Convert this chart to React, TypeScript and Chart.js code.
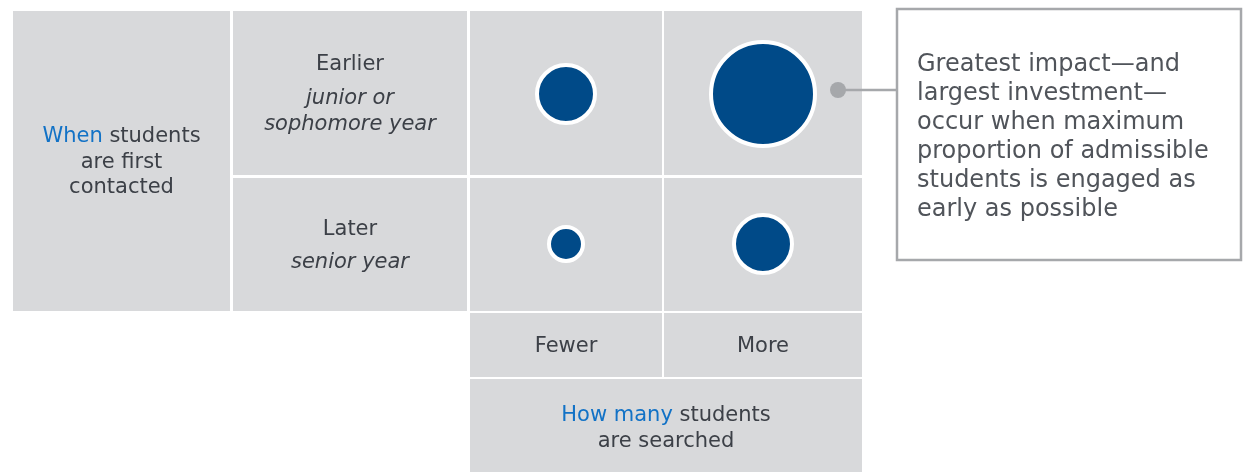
import React, { useEffect, useRef } from "react";
import { Chart, registerables } from "chart.js";

Chart.register(...registerables);

// ---- data ----
const columns = ["Fewer", "More"];
const rows = ["Earlier", "Later"];
const rowSubLabels = [["junior or", "sophomore year"], ["senior year"]];
const bubbleColumn = [0, 1, 0, 1];
const bubbleRow = [0, 0, 1, 1];
const bubbleRadius = [29, 52, 17, 29];
const rowTitle = [["When", " students"], ["", "are first"], ["", "contacted"]];
const colTitle = [["How many", " students"], ["", "are searched"]];
const noteLines = [
  "Greatest impact\u2014and",
  "largest investment\u2014",
  "occur when maximum",
  "proportion of admissible",
  "students is engaged as",
  "early as possible",
];

// ---- layout / style ----
const W = 1243;
const H = 472;
const GRAY = "#d8d9db";
const DARK = "#3c4047";
const BLUE_TEXT = "#1272c6";
const BUBBLE = "#004a88";
const NOTE_GRAY = "#a6a8ab";
const FONT = "'DejaVu Sans', Verdana, sans-serif";
const L = {
  col1: [13, 230],
  col2: [233, 467],
  col3: [470, 662],
  col4: [664, 862],
  rowTop: [11, 175],
  rowBot: [178, 311],
  labelRow: [313, 377],
  titleRow: [379, 472],
  xCenter0: 566,
  xStep: 197,
  yCenter0: 94,
  yStep: 150,
  dot: [838, 90],
  box: [897, 9, 1241, 260],
};

const cellPlugin = {
  id: "cells",
  beforeDatasetsDraw(chart: any) {
    const ctx = chart.ctx as CanvasRenderingContext2D;
    ctx.save();
    ctx.fillStyle = GRAY;
    const rect = (x: number[], y: number[]) =>
      ctx.fillRect(x[0], y[0], x[1] - x[0], y[1] - y[0]);
    rect(L.col1, [L.rowTop[0], L.rowBot[1]]);
    [L.col2, L.col3, L.col4].forEach((c) => {
      rect(c, L.rowTop);
      rect(c, L.rowBot);
    });
    rect(L.col3, L.labelRow);
    rect(L.col4, L.labelRow);
    rect([L.col3[0], L.col4[1]], L.titleRow);

    ctx.textBaseline = "middle";
    const mixed = (parts: string[], cx: number, cy: number) => {
      ctx.font = `21px ${FONT}`;
      const w0 = ctx.measureText(parts[0]).width;
      const w1 = ctx.measureText(parts[1]).width;
      let x = cx - (w0 + w1) / 2;
      ctx.textAlign = "left";
      ctx.fillStyle = BLUE_TEXT;
      ctx.fillText(parts[0], x, cy);
      ctx.fillStyle = DARK;
      ctx.fillText(parts[1], x + w0, cy);
    };
    // row title
    const c1 = (L.col1[0] + L.col1[1]) / 2;
    rowTitle.forEach((p, i) => mixed(p, c1, 137 + i * 25.5));
    // col title
    const ct = (L.col3[0] + L.col4[1]) / 2;
    colTitle.forEach((p, i) => mixed(p, ct, 416 + i * 26));

    ctx.textAlign = "center";
    ctx.fillStyle = DARK;
    const c2 = (L.col2[0] + L.col2[1]) / 2;
    ctx.font = `21px ${FONT}`;
    ctx.fillText(rows[0], c2, 65);
    ctx.fillText(rows[1], c2, 230);
    ctx.font = `italic 21px ${FONT}`;
    rowSubLabels[0].forEach((t, i) => ctx.fillText(t, c2, 99 + i * 26));
    rowSubLabels[1].forEach((t, i) => ctx.fillText(t, c2, 263 + i * 26));
    ctx.font = `21px ${FONT}`;
    ctx.fillText(columns[0], (L.col3[0] + L.col3[1]) / 2, 347);
    ctx.fillText(columns[1], (L.col4[0] + L.col4[1]) / 2, 347);

    // annotation
    const [bx0, by0, bx1, by1] = L.box;
    ctx.strokeStyle = NOTE_GRAY;
    ctx.lineWidth = 2.5;
    ctx.beginPath();
    ctx.moveTo(L.dot[0], L.dot[1]);
    ctx.lineTo(bx0, L.dot[1]);
    ctx.stroke();
    ctx.fillStyle = NOTE_GRAY;
    ctx.beginPath();
    ctx.arc(L.dot[0], L.dot[1], 8, 0, Math.PI * 2);
    ctx.fill();
    ctx.fillStyle = "#ffffff";
    ctx.fillRect(bx0, by0, bx1 - bx0, by1 - by0);
    ctx.strokeRect(bx0, by0, bx1 - bx0, by1 - by0);
    ctx.fillStyle = "#50545a";
    ctx.textAlign = "left";
    ctx.font = `24px ${FONT}`;
    noteLines.forEach((t, i) => ctx.fillText(t, 917, 65 + i * 29));
    ctx.restore();
  },
};

export default function App() {
  const ref = useRef<HTMLCanvasElement>(null);
  useEffect(() => {
    if (!ref.current) return;
    const chart = new Chart(ref.current, {
      type: "bubble",
      data: {
        datasets: [
          {
            data: bubbleRadius.map((r, i) => ({
              x: bubbleColumn[i],
              y: bubbleRow[i],
              r,
            })),
            backgroundColor: BUBBLE,
            borderColor: "#ffffff",
            borderWidth: 4,
            hoverBorderWidth: 4,
            clip: false as any,
          },
        ],
      },
      options: {
        responsive: false,
        animation: false,
        events: [],
        layout: {
          autoPadding: false,
          padding: {
            left: L.col3[0],
            right: W - L.col4[1],
            top: L.rowTop[0],
            bottom: H - L.rowBot[1],
          },
        },
        plugins: { legend: { display: false }, tooltip: { enabled: false } },
        scales: {
          x: {
            type: "linear",
            display: false,
            min: (L.col3[0] - L.xCenter0) / L.xStep,
            max: (L.col4[1] - L.xCenter0) / L.xStep,
          },
          y: {
            type: "linear",
            display: false,
            reverse: true,
            min: (L.rowTop[0] - L.yCenter0) / L.yStep,
            max: (L.rowBot[1] - L.yCenter0) / L.yStep,
          },
        },
      },
      plugins: [cellPlugin],
    });
    return () => chart.destroy();
  }, []);
  return (
    <div style={{ position: "absolute", left: 0, top: 0, width: W, height: H, background: "#fff" }}>
      <canvas ref={ref} width={W} height={H} style={{ display: "block" }} />
    </div>
  );
}
